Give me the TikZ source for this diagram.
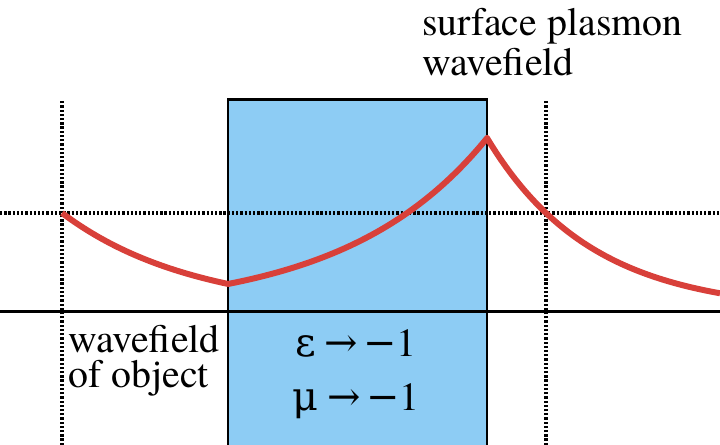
\documentclass[tikz,border=0pt]{standalone}
\usepackage{fontspec}
\newfontfamily\labelfont{texgyretermes-regular.otf}
\newfontfamily\greekfont{DejaVu Serif}
\definecolor{slabblue}{HTML}{8DCCF4}
\definecolor{fieldred}{HTML}{D8403A}
\tikzset{guide/.style={line width=2pt,dash pattern=on 1.3pt off 1.1pt},
  lbl/.style={inner sep=0pt,font=\labelfont\fontsize{22.7}{22.7}\selectfont}}

\begin{document}
\begin{tikzpicture}[x=0.02cm,y=0.02cm]
\useasboundingbox (0,0) rectangle (720,445);
\coordinate (SL) at (228,0);
\coordinate (ST) at (487,345);
\fill[slabblue] (SL) rectangle (ST);
\draw[guide] (0,232)--(720,232);
\draw[guide] (62,0)--(62,345);
\draw[guide] (546,0)--(546,345);
\draw[line width=1.7pt] (0,133)--(720,133);
\draw[line width=1.7pt] (SL)--(228,345)--(ST)--(487,0);
\draw[fieldred,line width=3.4pt,line join=round]
  plot[domain=62:228,samples=40] (\x,{133+99*exp(-0.0076*(\x-62))})
  -- plot[domain=228:487,samples=50] (\x,{133+28*exp(0.00705*(\x-228))})
  -- plot[domain=487:720,samples=50] (\x,{133+174*exp(-0.00956*(\x-487))});
\node[lbl,align=left,anchor=north west] (spw) at (422,437) {surface plasmon\\wavefield};
\node[lbl,align=left,anchor=north west,font=\labelfont\fontsize{22.7}{20}\selectfont] (obj) at (68,120) {wavefield\\of object};
\node[lbl,anchor=base] (eps) at (356,88) {{\greekfont ε\hspace{5pt}→}\hspace{3pt}{\greekfont −}1};
\node[lbl,anchor=base] (mu) at (356,34) {{\greekfont μ\hspace{5pt}→}\hspace{3pt}{\greekfont −}1};
\end{tikzpicture}
\end{document}
